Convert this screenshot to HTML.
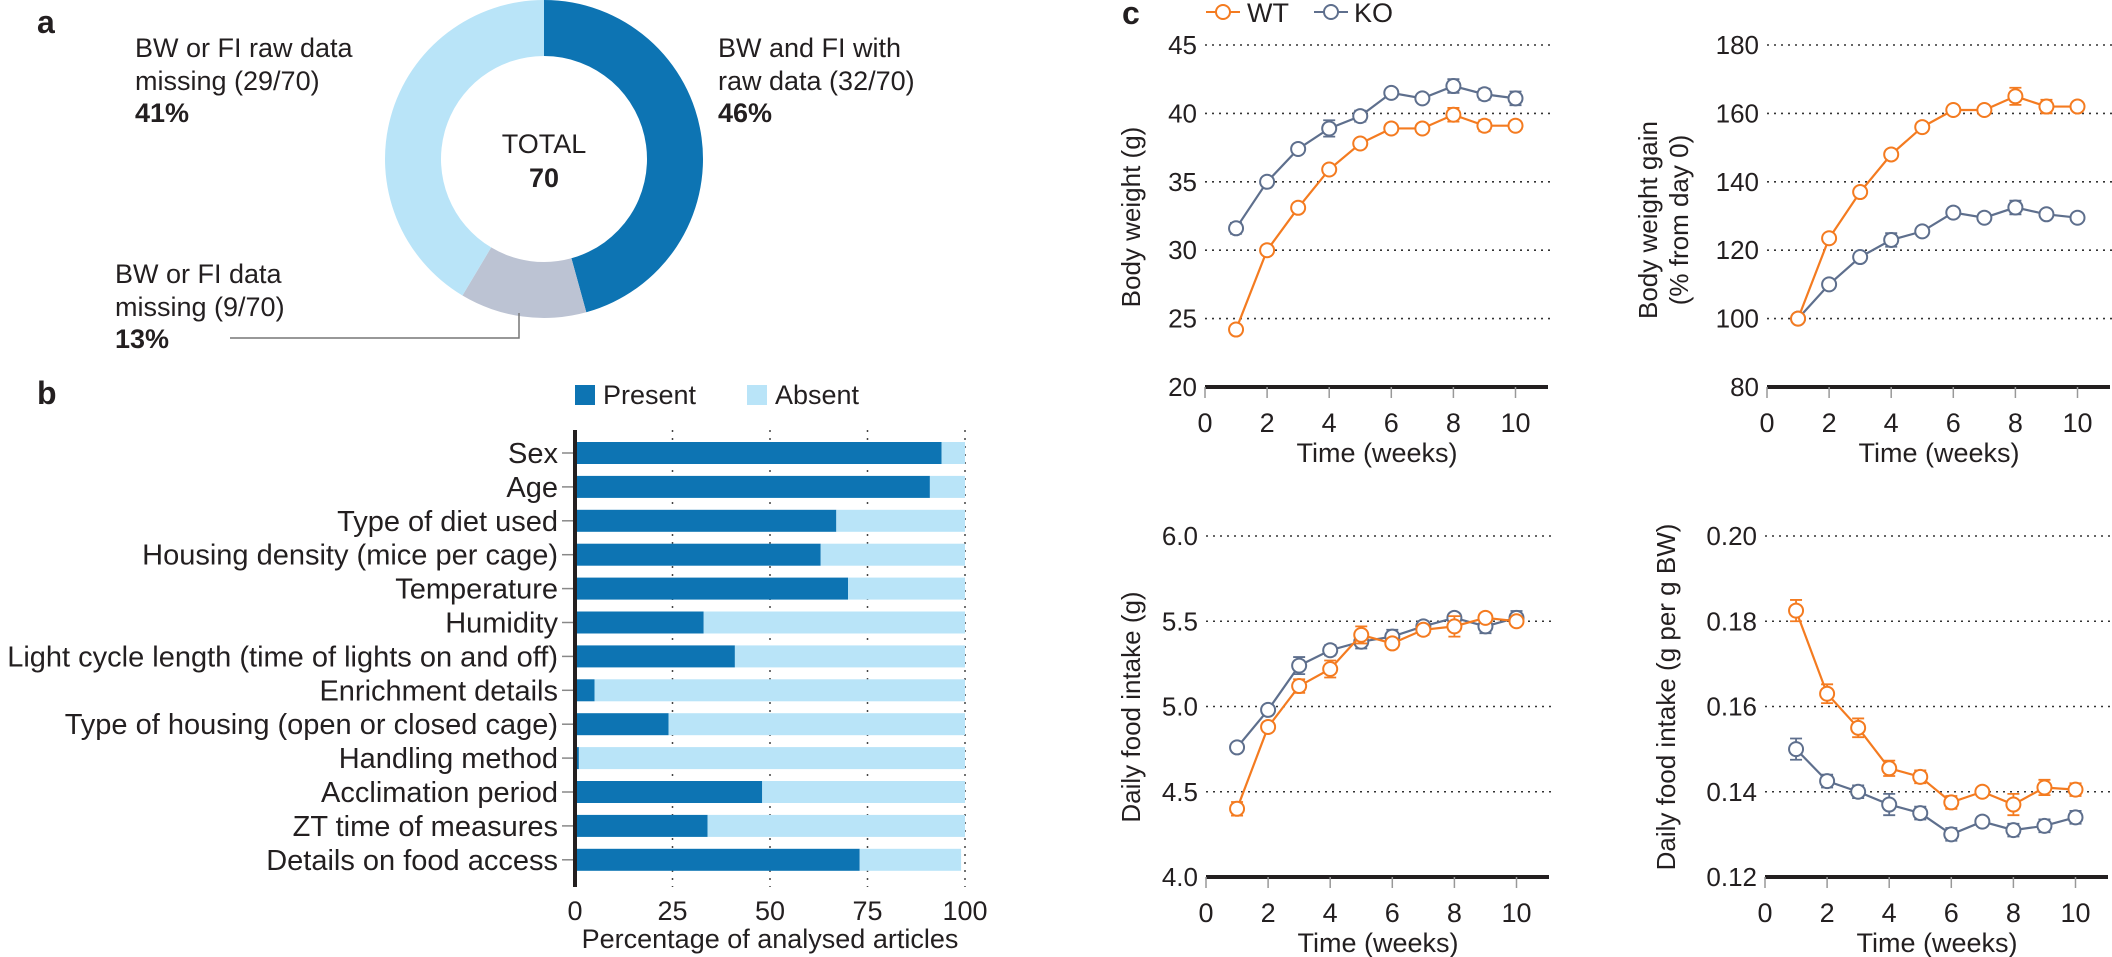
<!DOCTYPE html>
<html><head><meta charset="utf-8"><style>
html,body{margin:0;padding:0;background:#fff;}
svg{display:block;font-family:"Liberation Sans",sans-serif;}
</style></head><body>
<svg id="fig" width="2112" height="957" viewBox="0 0 2112 957" xmlns="http://www.w3.org/2000/svg">
<g id="pa"></g>
<g id="pb"></g>
<g id="pc"></g>
</svg>
<script>
// ---- Panel a data ----
const donutLabels = ["BW and FI with raw data", "BW or FI data missing", "BW or FI raw data missing"];
const donutCounts = [32, 9, 29];
// ---- Panel b data ----
const barCategories = ["Sex","Age","Type of diet used","Housing density (mice per cage)","Temperature","Humidity","Light cycle length (time of lights on and off)","Enrichment details","Type of housing (open or closed cage)","Handling method","Acclimation period","ZT time of measures","Details on food access"];
const barPresent = [94,91,67,63,70,33,41,5,24,1,48,34,73];
const barAbsent  = [6,9,33,37,30,67,59,95,76,99,52,66,26];
const barTicks = [0,25,50,75,100];
// ---- Panel c data ----
const weeks = [1,2,3,4,5,6,7,8,9,10];
const xTicks = [0,2,4,6,8,10];
const bwWT = [24.2,30,33.1,35.9,37.8,38.9,38.9,39.9,39.1,39.1];
const bwKO = [31.6,35,37.4,38.9,39.8,41.5,41.1,42,41.4,41.1];
const bwErrWT = [0.2,0.2,0.2,0.2,0.2,0.2,0.2,0.5,0.4,0.2];
const bwErrKO = [0.4,0.2,0.2,0.6,0.4,0.2,0.2,0.5,0.4,0.5];
const bwTicks = [20,25,30,35,40,45];
const gainWT = [100,123.5,137,148,156,161,161,165,162,162];
const gainKO = [100,110,118,123,125.5,131,129.5,132.5,130.5,129.5];
const gainErrWT = [0.3,0.5,0.5,0.5,0.5,0.5,0.5,2.5,2,0.5];
const gainErrKO = [0.3,0.5,0.5,2,0.5,0.5,0.5,2,0.5,0.5];
const gainTicks = [80,100,120,140,160,180];
const fiWT = [4.40,4.88,5.12,5.22,5.42,5.37,5.45,5.47,5.52,5.50];
const fiKO = [4.76,4.98,5.24,5.33,5.38,5.41,5.47,5.52,5.47,5.52];
const fiErrWT = [0.04,0.02,0.04,0.05,0.05,0.02,0.03,0.06,0.02,0.02];
const fiErrKO = [0.01,0.02,0.05,0.03,0.04,0.04,0.03,0.02,0.04,0.04];
const fiTicks = [4.0,4.5,5.0,5.5,6.0];
const fibwWT = [0.1825,0.163,0.155,0.1455,0.1435,0.1375,0.140,0.137,0.141,0.1405];
const fibwKO = [0.150,0.1425,0.140,0.137,0.135,0.130,0.133,0.131,0.132,0.134];
const fibwErrWT = [0.0025,0.0022,0.0022,0.0018,0.0015,0.0015,0.001,0.0025,0.0018,0.0015];
const fibwErrKO = [0.0025,0.0015,0.0015,0.0025,0.0015,0.0015,0.001,0.0015,0.0015,0.0015];
const fibwTicks = [0.12,0.14,0.16,0.18,0.20];

const NS="http://www.w3.org/2000/svg";
function mk(parent,tag,attrs,text){const e=document.createElementNS(NS,tag);for(const k in attrs)e.setAttribute(k,attrs[k]);if(text!==undefined)e.textContent=text;parent.appendChild(e);return e;}
const TXT="#231f20", ORANGE="#f47b20", SLATE="#5e6f8d", DARK="#0d74b3", LIGHT="#b9e4f8", GRAY="#bcc3d3";

// ===== Panel a =====
(function(){
  const g=document.getElementById('pa');
  const cx=544, cy=159, ro=159, ri=103;
  const total=donutCounts.reduce((a,b)=>a+b,0);
  const cols=[DARK,GRAY,LIGHT];
  const names=['slice-with-raw-data','slice-data-missing','slice-raw-data-missing'];
  let a0=0;
  donutCounts.forEach((v,i)=>{
    const a1=a0+v/total*2*Math.PI;
    const p=(r,a)=>[cx+r*Math.sin(a), cy-r*Math.cos(a)];
    const [x0,y0]=p(ro,a0),[x1,y1]=p(ro,a1),[x2,y2]=p(ri,a1),[x3,y3]=p(ri,a0);
    const lg=(a1-a0)>Math.PI?1:0;
    const path=mk(g,'path',{d:`M${x0},${y0} A${ro},${ro} 0 ${lg} 1 ${x1},${y1} L${x2},${y2} A${ri},${ri} 0 ${lg} 0 ${x3},${y3} Z`,fill:cols[i]});
    
    
    a0=a1;
  });
  const t=(x,y,s,opt,name)=>{const e=mk(g,'text',Object.assign({x:x,y:y,'font-size':27,fill:TXT},opt||{}),s);return e;};
  t(37,33,'a',{'font-weight':'bold','font-size':32},'panel-a-label');
  const pct=v=>Math.round(v/total*100)+'%';
  t(135,57,'BW or FI raw data',{},'label-raw-missing');
  t(135,90,'missing ('+donutCounts[2]+'/'+total+')',{},'label-raw-missing-count');
  t(135,122,pct(donutCounts[2]),{'font-weight':'bold'},'label-raw-missing-pct');
  t(718,57,'BW and FI with',{},'label-with-raw');
  t(718,90,'raw data ('+donutCounts[0]+'/'+total+')',{},'label-with-raw-count');
  t(718,122,pct(donutCounts[0]),{'font-weight':'bold'},'label-with-raw-pct');
  t(115,283,'BW or FI  data',{'xml:space':'preserve'},'label-data-missing');
  t(115,316,'missing ('+donutCounts[1]+'/'+total+')',{},'label-data-missing-count');
  t(115,348,pct(donutCounts[1]),{'font-weight':'bold'},'label-data-missing-pct');
  t(cx,153,'TOTAL',{'text-anchor':'middle'},'total-label');
  t(cx,187,String(total),{'text-anchor':'middle','font-weight':'bold'},'total-value');
  const l=mk(g,'path',{d:'M519,313 L519,338 L230,338',fill:'none',stroke:'#777','stroke-width':1.5});
  
  
})();

// ===== Panel b =====
(function(){
  const g=document.getElementById('pb');
  const ax=575, px=3.9, y0=453, step=33.9, bh=22, top=430, bot=887;
  const X=v=>ax+v*px;
  const lab=mk(g,'text',{x:37,y:404,'font-size':32,'font-weight':'bold',fill:TXT},'b');
  
  
  barTicks.slice(1).forEach(v=>{
    const l=mk(g,'line',{x1:X(v),x2:X(v),y1:top,y2:bot,stroke:'#444','stroke-width':1.5,'stroke-dasharray':'2 6'});
    
    
  });
  barCategories.forEach((c,i)=>{
    const y=y0+i*step;
    const r1=mk(g,'rect',{x:X(0),y:y-bh/2,width:barPresent[i]*px,height:bh,fill:DARK});
    
    
    const r2=mk(g,'rect',{x:X(barPresent[i]),y:y-bh/2,width:barAbsent[i]*px,height:bh,fill:LIGHT});
    
    
    const tk=mk(g,'line',{x1:562,x2:575,y1:y,y2:y,stroke:'#888','stroke-width':1.5});
    
    
    const t=mk(g,'text',{x:558,y:y+10,'font-size':29,'text-anchor':'end',fill:TXT},c);
    
    
  });
  const axl=mk(g,'line',{x1:ax,x2:ax,y1:top,y2:bot,stroke:'#231f20','stroke-width':4});
  
  
  barTicks.forEach(v=>{
    const t=mk(g,'text',{x:X(v),y:920,'font-size':27,'text-anchor':'middle',fill:TXT},String(v));
    
    
  });
  const tt=mk(g,'text',{x:770,y:948,'font-size':27,'text-anchor':'middle',fill:TXT},'Percentage of analysed articles');
  
  
  const s1=mk(g,'rect',{x:575,y:385,width:20,height:20,fill:DARK});
  
  
  const l1=mk(g,'text',{x:603,y:404,'font-size':27,fill:TXT},'Present');
  
  
  const s2=mk(g,'rect',{x:747,y:385,width:20,height:20,fill:LIGHT});
  
  
  const l2=mk(g,'text',{x:775,y:404,'font-size':27,fill:TXT},'Absent');
  
  
})();

// ===== Panel c =====
(function(){
  const g=document.getElementById('pc');
  const c=mk(g,'text',{x:1122,y:24,'font-size':32,'font-weight':'bold',fill:TXT},'c');
  
  
  [[1206,1240,1223,1247,'WT',ORANGE,'legend-wt'],[1314,1348,1331,1354,'KO',SLATE,'legend-ko']].forEach(L=>{
    const ln=mk(g,'line',{x1:L[0],x2:L[1],y1:12,y2:12,stroke:L[5],'stroke-width':2});
    
    
    const ci=mk(g,'circle',{cx:L[2],cy:12,r:7,fill:'#fff',stroke:L[5],'stroke-width':2});
    
    
    const tx=mk(g,'text',{x:L[3],y:22,'font-size':27,fill:TXT},L[4]);
    
    
  });
  function chart(cfg){
    const cg=mk(g,'g',{});
    
    
    const ppw=31.05, ymin=cfg.ticks[0], ymax=cfg.ticks[cfg.ticks.length-1];
    const X=w=>cfg.x0+w*ppw;
    const Y=v=>cfg.yb-(v-ymin)/(ymax-ymin)*(cfg.yb-cfg.yt);
    cfg.ticks.forEach((v,i)=>{
      if(i>0){
        const gl=mk(cg,'line',{x1:cfg.x0,x2:cfg.x0+345,y1:Y(v),y2:Y(v),stroke:'#333','stroke-width':1.6,'stroke-dasharray':'2 5'});
        
        
      }
      const t=mk(cg,'text',{x:cfg.x0-8,y:Y(v)+9,'font-size':26,'text-anchor':'end',fill:TXT},v.toFixed(cfg.dec));
      
      
    });
    const ax=mk(cg,'line',{x1:cfg.x0,x2:cfg.x0+343,y1:cfg.yb,y2:cfg.yb,stroke:'#231f20','stroke-width':4});
    
    
    xTicks.forEach(w=>{
      const tk=mk(cg,'line',{x1:X(w),x2:X(w),y1:cfg.yb,y2:cfg.yb+11,stroke:'#999','stroke-width':1.5});
      
      
      const t=mk(cg,'text',{x:X(w),y:cfg.yb+45,'font-size':27,'text-anchor':'middle',fill:TXT},String(w));
      
      
    });
    const xt=mk(cg,'text',{x:cfg.x0+172,y:cfg.yb+75,'font-size':27,'text-anchor':'middle',fill:TXT},'Time (weeks)');
    
    
    cfg.ylab.forEach((s,i)=>{
      const lx=cfg.ylx+i*31, ly=cfg.yly;
      const t=mk(cg,'text',{x:lx,y:ly,'font-size':26,'text-anchor':'middle',fill:TXT,transform:`rotate(-90 ${lx} ${ly})`},s);
      
      
    });
    [[cfg.ko,cfg.eko,SLATE,'ko'],[cfg.wt,cfg.ewt,ORANGE,'wt']].forEach(S=>{
      const pts=weeks.map((w,i)=>X(w)+','+Y(S[0][i])).join(' ');
      const pl=mk(cg,'polyline',{points:pts,fill:'none',stroke:S[2],'stroke-width':2.2});
      
      
      weeks.forEach((w,i)=>{
        const x=X(w), y1=Y(S[0][i]-S[1][i]), y2=Y(S[0][i]+S[1][i]);
        const eb=mk(cg,'path',{d:`M${x},${y1}L${x},${y2}M${x-6},${y1}L${x+6},${y1}M${x-6},${y2}L${x+6},${y2}`,stroke:S[2],'stroke-width':1.8,fill:'none'});
        
        
        const p=mk(cg,'circle',{cx:x,cy:Y(S[0][i]),r:7,fill:'#fff',stroke:S[2],'stroke-width':2});
        
        
      });
    });
  }
  chart({name:'body-weight-chart',x0:1205,yb:387,yt:45,ticks:bwTicks,dec:0,wt:bwWT,ko:bwKO,ewt:bwErrWT,eko:bwErrKO,ylab:['Body weight (g)'],ylx:1140,yly:217});
  chart({name:'body-weight-gain-chart',x0:1767,yb:387,yt:45,ticks:gainTicks,dec:0,wt:gainWT,ko:gainKO,ewt:gainErrWT,eko:gainErrKO,ylab:['Body weight gain','(% from day 0)'],ylx:1657,yly:220});
  chart({name:'food-intake-chart',x0:1206,yb:877,yt:536,ticks:fiTicks,dec:1,wt:fiWT,ko:fiKO,ewt:fiErrWT,eko:fiErrKO,ylab:['Daily food intake (g)'],ylx:1140,yly:707});
  chart({name:'food-intake-per-bw-chart',x0:1765,yb:877,yt:536,ticks:fibwTicks,dec:2,wt:fibwWT,ko:fibwKO,ewt:fibwErrWT,eko:fibwErrKO,ylab:['Daily food intake (g per g BW)'],ylx:1675,yly:697});
})();
</script>
</body></html>
